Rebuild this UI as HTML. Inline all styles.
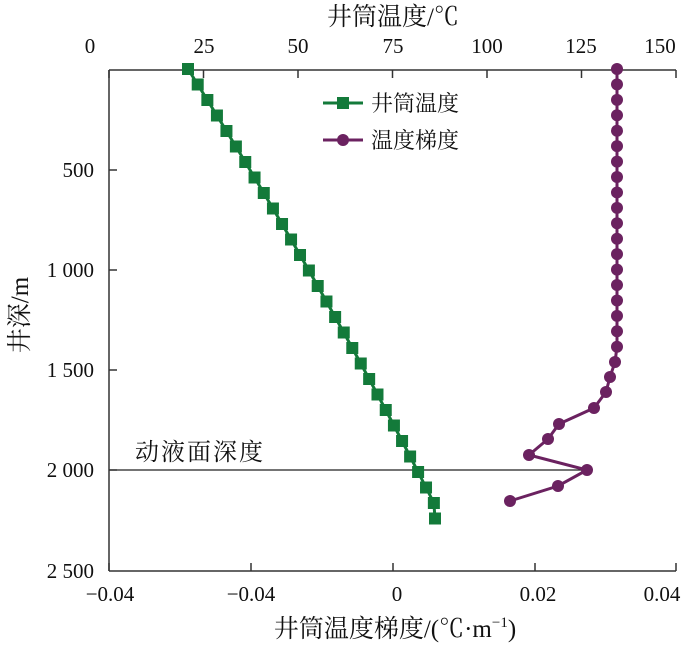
<!DOCTYPE html>
<html><head><meta charset="utf-8"><style>
html,body{margin:0;padding:0;background:#fff;}
svg{display:block;}
text{font-family:"Liberation Serif","Noto Serif CJK SC",serif;font-size:21px;fill:#111;}
.cjk{font-family:"Liberation Serif","Noto Serif CJK SC",serif;}
</style></head><body>
<svg id="s" width="700" height="646" viewBox="0 0 700 646" xmlns="http://www.w3.org/2000/svg">
<g stroke="#333" stroke-width="1.5" fill="none">
<line x1="109" y1="70" x2="676" y2="70"/>
<line x1="109" y1="70" x2="109" y2="571"/>
<line x1="109" y1="571" x2="676" y2="571"/>
<line x1="109" y1="470" x2="587" y2="470" stroke="#222" stroke-width="1.2"/>
</g>
<g id="ticks" stroke="#333" stroke-width="1.5"></g>
<g text-anchor="middle">
<text x="90" y="53">0</text><text x="204" y="53">25</text><text x="298" y="53">50</text>
<text x="393" y="53">75</text><text x="487" y="53">100</text><text x="581" y="53">125</text><text x="660" y="53">150</text>
<text x="110" y="601">−0.04</text><text x="251" y="601">−0.04</text><text x="397" y="601">0</text>
<text x="538" y="601">0.02</text><text x="662" y="601">0.04</text>
</g>
<g text-anchor="end">
<text x="94" y="177">500</text><text x="94" y="277">1 000</text><text x="94" y="377">1 500</text>
<text x="94" y="477">2 000</text><text x="94" y="578">2 500</text>
</g>
<text class="cjk" x="393" y="25" text-anchor="middle" style="font-size:25px">井筒温度/℃</text>
<text class="cjk" x="395" y="637" text-anchor="middle" style="font-size:25px">井筒温度梯度/(℃·m<tspan font-size="15" dy="-10">−1</tspan><tspan dy="10">)</tspan></text>
<text class="cjk" transform="translate(28,315) rotate(-90)" text-anchor="middle" style="font-size:25px">井深/m</text>
<text class="cjk" x="135" y="460" style="font-size:24px;letter-spacing:2px">动液面深度</text>
<line x1="323" y1="103" x2="363" y2="103" stroke="#137a3a" stroke-width="3"/>
<rect x="337" y="97" width="12" height="12" fill="#137a3a"/>
<text class="cjk" x="371" y="111" style="font-size:22px">井筒温度</text>
<line x1="323" y1="140" x2="363" y2="140" stroke="#6b2260" stroke-width="3"/>
<circle cx="343" cy="140" r="6" fill="#6b2260"/>
<text class="cjk" x="371" y="148" style="font-size:22px">温度梯度</text>
<g id="series"></g>
</svg>
<script>
var ns="http://www.w3.org/2000/svg",S=document.getElementById('series'),T=document.getElementById('ticks');
function el(t,a,p){var e=document.createElementNS(ns,t);for(var k in a)e.setAttribute(k,a[k]);(p||S).appendChild(e);return e;}
[109,203.5,298,392.5,487,581.5,676].forEach(function(x){el('line',{x1:x,y1:70,x2:x,y2:78},T);});
[109,251,393,535,676].forEach(function(x){el('line',{x1:x,y1:571,x2:x,y2:563},T);});
[170,270,370,470].forEach(function(y){el('line',{x1:109,y1:y,x2:117,y2:y},T);});
var g=[];for(var i=0;i<30;i++){var y=69+i*15.5,t=y-69;var x=188+0.629*t-0.000144*t*t;if(x>435)x=435;g.push([x,y]);}
g[29][0]=435;
el('polyline',{points:g.map(function(p){return p.join(',')}).join(' '),fill:'none',stroke:'#137a3a','stroke-width':3});
g.forEach(function(p){el('rect',{x:p[0]-6,y:p[1]-6,width:12,height:12,fill:'#137a3a'});});
var p=[];for(var i=0;i<19;i++)p.push([617,69+i*15.43]);
p=p.concat([[615,362],[610,377],[606,392],[594,408],[559,424],[548,439],[529,455],[587,470],[558,486],[510,501]]);
el('polyline',{points:p.map(function(q){return q.join(',')}).join(' '),fill:'none',stroke:'#6b2260','stroke-width':3});
p.forEach(function(q){el('circle',{cx:q[0],cy:q[1],r:6,fill:'#6b2260'});});
</script>
</body></html>
